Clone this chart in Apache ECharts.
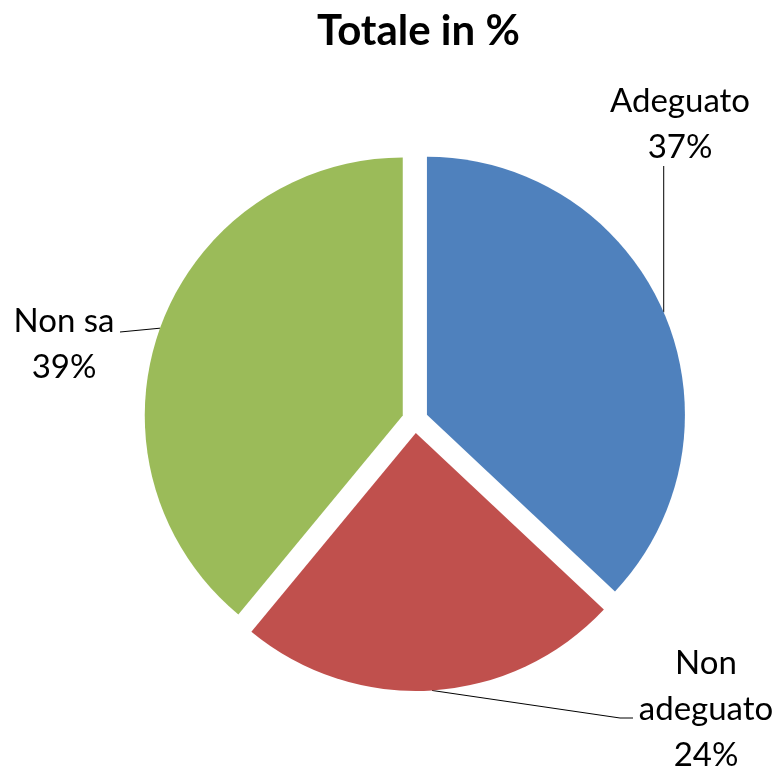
<!DOCTYPE html>
<html>
<head>
<meta charset="utf-8">
<script src="https://cdn.jsdelivr.net/npm/echarts@6/dist/echarts.min.js"></script>
<style>
  html, body { margin: 0; padding: 0; background: #fff; }
  #chart { width: 780px; height: 767px; }
</style>
</head>
<body>
<div id="chart"></div>
<script>
// dati
const categories = ['Adeguato', 'Non adeguato', 'Non sa'];
const labelTexts = ['Adeguato', 'Non\nadeguato', 'Non sa'];
const values = [37, 24, 39];
const colors = ['#4F81BD', '#C0504D', '#9BBB59'];

// posizione e larghezza delle etichette (centro del blocco di testo)
const labelPos = [
  [680, 124],
  [706, 709],
  [64, 344]
];
const labelWidths = [150, 140, 102];

const baseCenter = [415, 420];
const explode = 13;
const total = values.reduce((a, b) => a + b, 0);

// linee guida: partono dal punto sul bordo della fetta calcolato da ECharts
function guide(i, p0, rect) {
  const [lx, ly] = labelPos[i];
  const w = labelWidths[i];
  if (i === 0) {          // verticale verso il basso dell'etichetta
    const bottom = ly + rect.height / 2 - 4;
    return [p0, [p0[0], bottom], [p0[0], bottom]];
  }
  if (i === 1) {          // verso sinistra di "adeguato"
    const left = lx - w / 2;
    return [p0, [left - 16, ly + 9], [left - 3, ly + 9]];
  }
  const right = lx + w / 2 + 5; // "Non sa"
  return [p0, [right, ly - 12], [right, ly - 12]];
}

// una serie per fetta, spostata lungo la bisettrice (fetta "esplosa")
const series = [];
let cum = 0;
values.forEach((v, i) => {
  const mid = (cum + v / 2) / total * 2 * Math.PI; // angolo dall'alto, senso orario
  cum += v;
  const dx = Math.sin(mid) * explode;
  const dy = -Math.cos(mid) * explode;
  series.push({
    type: 'pie',
    center: [baseCenter[0] + dx, baseCenter[1] + dy],
    radius: 258,
    startAngle: 90,
    clockwise: true,
    silent: true,
    emphasis: { disabled: true },
    data: categories.map((c, j) => ({
      name: c,
      value: values[j],
      itemStyle: { color: j === i ? colors[j] : 'rgba(0,0,0,0)' },
      label: {
        show: j === i,
        width: labelWidths[j],
        formatter: labelTexts[j] + '\n' + values[j] + '%'
      },
      labelLine: { show: j === i }
    })),
    label: {
      position: 'outside',
      fontFamily: 'Lato',
      fontSize: 33,
      lineHeight: 46,
      color: '#000',
      align: 'center'
    },
    labelLine: {
      length: 20,
      length2: 20,
      lineStyle: { color: '#000', width: 1 }
    },
    labelLayout: function (p) {
      const pos = labelPos[p.dataIndex];
      const out = {
        x: pos[0],
        y: pos[1],
        align: 'center',
        verticalAlign: 'middle'
      };
      if (p.labelLinePoints) {
        out.labelLinePoints = guide(p.dataIndex, p.labelLinePoints[0], p.labelRect);
      }
      return out;
    }
  });
});

const chart = echarts.init(document.getElementById('chart'));

chart.setOption({
  backgroundColor: '#fff',
  animation: false,
  title: {
    text: 'Totale in %',
    left: 312,
    top: 5,
    textStyle: {
      fontFamily: 'Lato',
      fontSize: 42,
      fontWeight: 'bold',
      color: '#000'
    }
  },
  series: series
});
</script>
</body>
</html>
